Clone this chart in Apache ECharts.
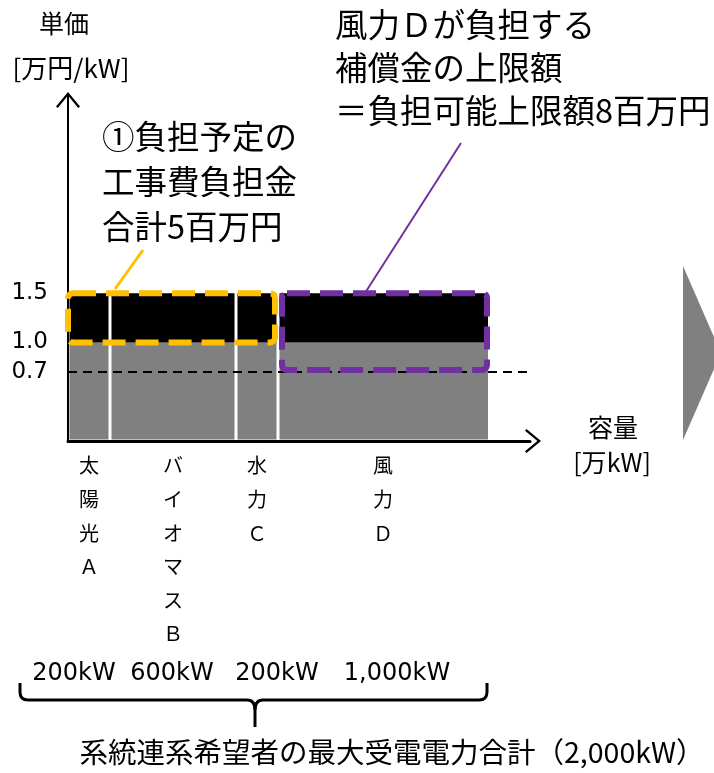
<!DOCTYPE html>
<html>
<head>
<meta charset="utf-8">
<script src="https://cdn.jsdelivr.net/npm/echarts@6/dist/echarts.min.js"></script>
<style>
  html, body { margin: 0; padding: 0; background: #fff; }
  #chart { width: 714px; height: 773px; }
</style>
</head>
<body>
<div id="chart"></div>
<script>
// data
const categories = ['太陽光Ａ', 'バイオマスＢ', '水力Ｃ', '風力Ｄ'];
const capacity = [200, 600, 200, 1000]; // kW
const baseCost = [1.0, 1.0, 1.0, 1.0]; // 万円/kW
const topCost = [1.5, 1.5, 1.5, 1.5]; // 万円/kW
const limitCost = 0.7;
const yTicks = [0.7, 1.0, 1.5];
const yellowGroup = [0, 1, 2]; // ① 工事費負担金
const purpleGroup = [3]; // 風力D

const JP = 'Noto Sans CJK JP, sans-serif';

// cumulative positions along the capacity axis
const starts = [];
let acc = 0;
capacity.forEach((c) => { starts.push(acc); acc += c; });
const total = acc;
const mids = capacity.map((c, i) => starts[i] + c / 2);

const barData = capacity.map((c, i) => [starts[i], starts[i] + c, baseCost[i], topCost[i]]);
const yEnd = (g) => starts[g[g.length - 1]] + capacity[g[g.length - 1]];
const boxData = [
  [starts[yellowGroup[0]], yEnd(yellowGroup), Math.min(...yellowGroup.map((i) => baseCost[i])), Math.max(...yellowGroup.map((i) => topCost[i])), 0],
  [starts[purpleGroup[0]], yEnd(purpleGroup), limitCost, Math.max(...purpleGroup.map((i) => topCost[i])), 1],
];

const renderBar = (params, api) => {
  const p0 = api.coord([api.value(0), 0]);
  const p1 = api.coord([api.value(1), 0]);
  const yb = api.coord([0, api.value(2)])[1];
  const yt = api.coord([0, api.value(3)])[1];
  const i = params.dataIndex;
  const left = p0[0] + 1.5;
  const right = p1[0] - (i < capacity.length - 1 ? 1.5 : 0);
  const bottom = p0[1] - 1.5;
  return {
    type: 'group',
    children: [
      { type: 'rect', shape: { x: left, y: yb, width: right - left, height: bottom - yb }, style: { fill: '#808080' } },
      { type: 'rect', shape: { x: left, y: yt, width: right - left, height: yb - yt }, style: { fill: '#000000' } },
    ],
  };
};

const boxStyles = [
  { color: '#FFC000', inset: [0, 3, 0, 0] },
  { color: '#7030A0', inset: [4, 1, 0, 2] },
];

const renderBox = (params, api) => {
  const s = boxStyles[api.value(4)];
  const x0 = api.coord([api.value(0), 0])[0] + s.inset[0];
  const x1 = api.coord([api.value(1), 0])[0] - s.inset[1];
  const yl = api.coord([0, api.value(2)])[1] - s.inset[3];
  const yh = api.coord([0, api.value(3)])[1] + s.inset[2];
  return {
    type: 'rect',
    shape: { x: x0, y: yh, width: x1 - x0, height: yl - yh, r: 5 },
    style: { fill: 'none', stroke: s.color, lineWidth: 6, lineDash: [23, 10] },
  };
};

const chevron = 'path://M0,14.5L12,0L24,14.5L22.2,16L12,3.6L1.8,16Z';

const txt = (x, y, text, size, extra) => ({
  type: 'text',
  x, y,
  style: Object.assign({
    text,
    fontSize: size,
    fontFamily: JP,
    fill: '#000',
    align: 'center',
    verticalAlign: 'middle',
    textAlign: 'center',
    textVerticalAlign: 'middle',
  }, extra || {}),
});
const topLeft = { align: 'left', textAlign: 'left', verticalAlign: 'top', textVerticalAlign: 'top' };

const capLabels = capacity.map((c) => c.toLocaleString('en-US') + 'kW');
const capX = [74, 172, 277, 397];

const braceStyle = { fill: 'none', stroke: '#000', lineWidth: 3 };
const seg = (x1, y1, x2, y2) => ({ type: 'line', shape: { x1, y1, x2, y2 }, style: braceStyle });
const curve = (x1, y1, cpx1, cpy1, x2, y2) => ({ type: 'bezierCurve', shape: { x1, y1, cpx1, cpy1, x2, y2 }, style: braceStyle });
const brace = [
  seg(20, 683, 20, 692),
  curve(20, 692, 20, 700, 28, 700),
  seg(28, 700, 247, 700),
  curve(247, 700, 255, 700, 255, 710),
  curve(263, 700, 255, 700, 255, 710),
  seg(255, 710, 255, 727),
  seg(263, 700, 479, 700),
  curve(479, 700, 487, 700, 487, 692),
  seg(487, 692, 487, 683),
];

const chart = echarts.init(document.getElementById('chart'));
chart.setOption({
  animation: false,
  grid: { left: 68, right: 184, top: 96, bottom: 332, outerBoundsMode: 'none' },
  xAxis: {
    type: 'value',
    min: 0,
    max: 2200,
    splitLine: { show: false },
    axisTick: { show: false },
    axisLine: {
      show: true,
      lineStyle: { color: '#000', width: 3 },
      symbol: ['none', chevron],
      symbolSize: [24, 16],
      symbolOffset: [0, 3],
    },
    axisLabel: {
      customValues: mids,
      formatter: (v) => {
        const i = mids.indexOf(v);
        return i < 0 ? '' : categories[i].split('').join('\n');
      },
      color: '#000',
      fontFamily: JP,
      fontSize: 20,
      lineHeight: 33.6,
      margin: 8,
      verticalAlign: 'top',
      hideOverlap: false,
    },
  },
  yAxis: {
    type: 'value',
    min: 0,
    max: 3.5,
    splitLine: { show: false },
    axisTick: { show: false },
    axisLine: {
      show: true,
      lineStyle: { color: '#000', width: 2 },
      symbol: ['none', chevron],
      symbolSize: [24, 16],
      symbolOffset: [0, -4],
    },
    axisLabel: {
      customValues: yTicks,
      formatter: (v) => v.toFixed(1),
      color: '#000',
      fontFamily: 'Liberation Sans Narrow, DejaVu Sans, sans-serif',
      fontSize: 23,
      margin: 20,
    },
  },
  series: [
    {
      type: 'custom',
      renderItem: renderBar,
      data: barData,
      z: 2,
      silent: true,
      markLine: {
        silent: true,
        symbol: 'none',
        label: { show: false },
        lineStyle: { color: '#000', width: 2, type: [9, 6] },
        data: [{ yAxis: limitCost }],
      },
    },
    {
      type: 'custom',
      renderItem: renderBox,
      data: boxData,
      z: 10,
      silent: true,
    },
  ],
  graphic: [
    txt(64, 23, '単価', 25),
    txt(71, 68, '[万円/kW]', 26),
    txt(613, 427, '容量', 25),
    txt(612, 462, '[万kW]', 25),
    txt(102, 114.5, '①負担予定の\n工事費負担金\n合計5百万円', 32.5, Object.assign({ lineHeight: 45 }, topLeft)),
    txt(335, 3.5, '風力Ｄが負担する\n補償金の上限額\n＝負担可能上限額8百万円', 32.5, Object.assign({ lineHeight: 43 }, topLeft)),
    { type: 'line', shape: { x1: 115, y1: 289, x2: 143, y2: 250 }, style: { stroke: '#FFC000', lineWidth: 3 } },
    { type: 'line', shape: { x1: 365, y1: 293, x2: 461, y2: 143 }, style: { stroke: '#7030A0', lineWidth: 2 } },
    { type: 'polygon', shape: { points: [[683, 266], [721, 353], [683, 440]] }, style: { fill: '#808080' } },
    ...capLabels.map((t, i) => txt(capX[i], 674, t, 24, { fontFamily: 'DejaVu Sans, sans-serif' })),
    ...brace,
    txt(392, 752, '系統連系希望者の最大受電電力合計（' + total.toLocaleString('en-US') + 'kW）', 28.5),
  ],
});
</script>
</body>
</html>
